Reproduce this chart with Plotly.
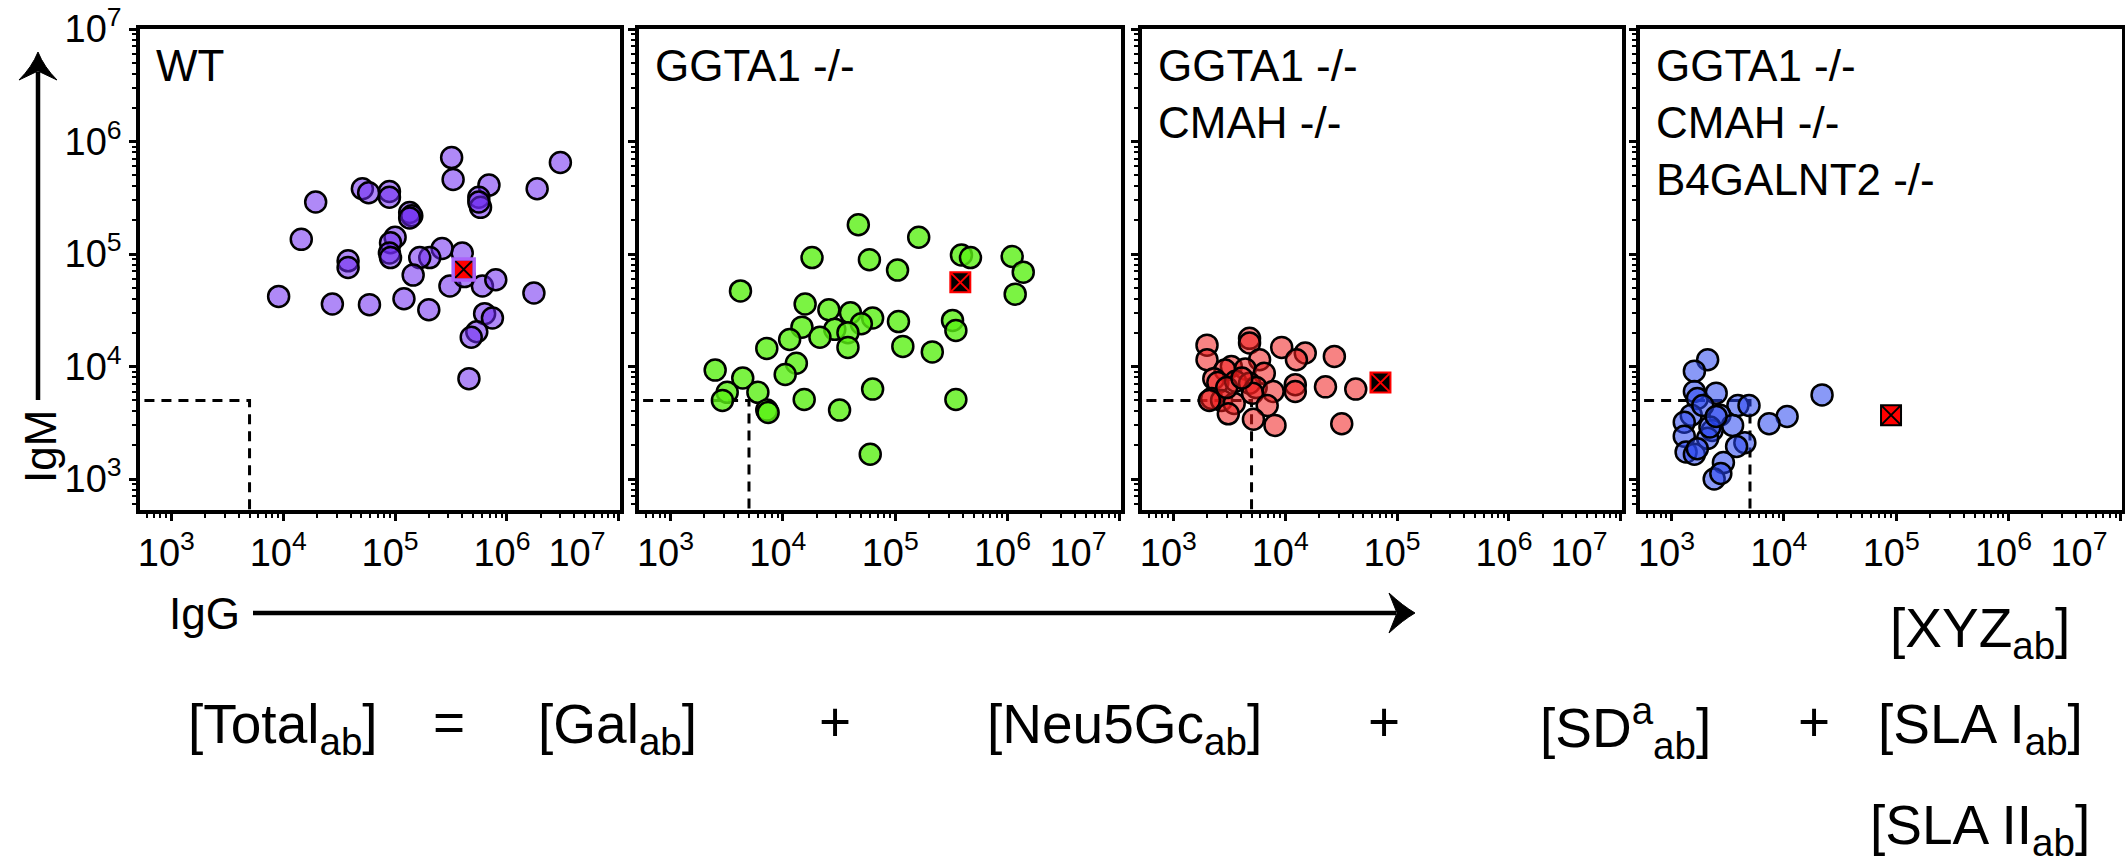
import plotly.graph_objects as go

W, H = 2125, 866

# IgG / IgM binding (MFI) of each serum on cells of each genotype
wt_igg = [320000, 330000, 3000000, 1860000, 690000, 560000, 580000, 560000, 51000, 58000,
          89000, 89000, 19500, 135000, 141000, 135000, 14500, 100000, 91000, 89000,
          91000, 38000, 38000, 263000, 204000, 166000, 398000, 145000, 309000, 417000,
          603000, 794000, 1740000, 9100, 27500, 59000, 120000, 200000, 631000, 741000,
          537000, 479000, 457000]
wt_igm = [720000, 460000, 650000, 380000, 410000, 320000, 260000, 290000, 380000, 350000,
          360000, 320000, 290000, 234000, 219000, 209000, 135000, 141000, 126000, 102000,
          93000, 87000, 76000, 112000, 93000, 93000, 102000, 65000, 52000, 63000,
          52000, 59000, 45000, 42000, 36000, 35500, 40000, 32000, 29500, 27000,
          20400, 18200, 7800]

ggta1_igg = [47000, 162000, 18200, 59000, 105000, 389000, 468000, 1100000, 1380000, 1170000,
             4200, 15800, 25700, 40000, 63000, 50000, 29000, 38000, 14800, 11500,
             21400, 38000, 107000, 117000, 214000, 324000, 347000, 7200, 13200, 10500,
             2500, 4400, 3200, 2900, 6000, 7200, 7400, 15500, 32000, 63000,
             347000, 60000]
ggta1_igm = [182000, 141000, 93000, 89000, 72000, 98000, 93000, 95000, 69000, 44000,
             47000, 36000, 32000, 30000, 27000, 24000, 21400, 20000, 22400, 17400,
             18200, 14800, 25100, 15100, 13500, 25700, 20900, 14500, 10700, 8500,
             9300, 7900, 5900, 5000, 5900, 4100, 3900, 5100, 4100, 6300,
             5100, 1660]

dko_igg = [2000, 4800, 4800, 9300, 15100, 12600, 27500, 2000, 5900, 3300,
           2900, 4400, 6500, 2300, 2500, 3600, 4800, 5500, 7800, 12300,
           12300, 22900, 42700, 2200, 2700, 2100, 3500, 5100, 6900, 3100,
           5200, 8100, 32000, 3000, 4100]
dko_igm = [15500, 17800, 16200, 14800, 13200, 11500, 12300, 11500, 11500, 10000,
           9300, 9500, 8700, 7800, 7200, 7400, 7100, 6500, 6000, 6900,
           6000, 6600, 6300, 5200, 5000, 5000, 4700, 5800, 4500, 3800,
           3400, 3000, 3100, 6500, 7900]

tko_igg = [2100, 1600, 1600, 1700, 2500, 3900, 4900, 21900, 10700, 7400,
           1500, 1300, 2700, 3500, 2300, 1300, 2100, 4500, 3800, 1350,
           1600, 1700, 2900, 2400, 2750, 2200, 1900, 2500]
tko_igm = [11500, 9100, 6000, 5200, 5800, 4500, 4500, 5600, 3600, 3100,
           3700, 3200, 3700, 3000, 2700, 2400, 2300, 2100, 1950, 1740,
           1660, 1860, 1400, 1000, 1120, 2900, 4500, 3600]

# Reference serum measured on each genotype
ref_igg = [410000, 380000, 71000, 90000]
ref_igm = [73000, 56000, 7200, 3700]

# Background cut-off on both axes
cutoff = 5000

panel_titles = ["WT", "GGTA1 -/-", "GGTA1 -/-<br>CMAH -/-",
                "GGTA1 -/-<br>CMAH -/-<br>B4GALNT2 -/-"]
tick_vals = [1e3, 1e4, 1e5, 1e6, 1e7]
tick_text = ["10<sup>3</sup>", "10<sup>4</sup>", "10<sup>5</sup>", "10<sup>6</sup>",
             "10<sup>7</sup>"]
# the last x label sits a little in from the panel edge
x_tick_text = tick_text[:-1] + ["10<sup>7</sup>" + "&nbsp;" * 7]

series = [(wt_igg, wt_igm), (ggta1_igg, ggta1_igm), (dko_igg, dko_igm), (tko_igg, tko_igm)]
fills = ["rgba(110,40,240,0.55)", "rgba(90,240,20,0.8)",
         "rgba(240,30,30,0.55)", "rgba(40,70,240,0.55)"]
ref_fill = ["red", "black", "black", "red"]
ref_edge = ["black", "red", "red", "black"]

# inner plot-area edges of the four panels, in page pixels
lefts = [140, 639, 1142, 1640]
rights = [620, 1121, 1622, 2122]
top_px, bottom_px = 29, 510

FONT = "Liberation Sans, Arial, Helvetica, sans-serif"

fig = go.Figure()
layout_axes = {}
for i, ((gx, gm), fill) in enumerate(zip(series, fills)):
    n = i + 1
    xa, ya = ("x", "y") if n == 1 else (f"x{n}", f"y{n}")

    # dashed cut-off box
    fig.add_trace(go.Scatter(
        x=[100, cutoff, cutoff], y=[cutoff, cutoff, 100], mode="lines",
        line=dict(color="black", width=3, dash="10px,7px"),
        xaxis=xa, yaxis=ya, showlegend=False, hoverinfo="skip"))

    fig.add_trace(go.Scatter(
        x=gx, y=gm, mode="markers",
        marker=dict(symbol="circle", size=21, color=fill,
                    line=dict(color="black", width=2.5)),
        xaxis=xa, yaxis=ya, showlegend=False))

    fig.add_trace(go.Scatter(
        x=[ref_igg[i]], y=[ref_igm[i]], mode="markers",
        marker=dict(symbol="square-x", size=20, color=ref_fill[i],
                    line=dict(color=ref_edge[i], width=2)),
        xaxis=xa, yaxis=ya, showlegend=False))
    if i == 0:
        fig.add_trace(go.Scatter(
            x=[ref_igg[i]], y=[ref_igm[i]], mode="markers",
            marker=dict(symbol="square-open", size=21,
                        line=dict(color="red", width=3.5)),
            xaxis=xa, yaxis=ya, showlegend=False))

    common = dict(type="log", showline=True, linecolor="black", linewidth=3.5,
                  mirror=True, showgrid=False, zeroline=False, automargin=False,
                  ticks="outside", ticklen=7, tickwidth=2.5, tickcolor="black",
                  tickvals=tick_vals, ticklabeloverflow="allow",
                  tickfont=dict(family=FONT, size=38, color="black"),
                  minor=dict(ticks="outside", ticklen=4, tickwidth=2,
                             tickcolor="black", dtick="D1", showgrid=False))
    xkey = "xaxis" if n == 1 else f"xaxis{n}"
    ykey = "yaxis" if n == 1 else f"yaxis{n}"
    layout_axes[xkey] = dict(common, domain=[lefts[i] / W, rights[i] / W],
                             range=[2.72, 7.01], anchor=ya,
                             ticktext=x_tick_text, ticklabelshift=-5)
    layout_axes[ykey] = dict(common, domain=[1 - bottom_px / H, 1 - top_px / H],
                             range=[2.725, 7.0], anchor=xa, ticktext=tick_text,
                             showticklabels=(n == 1))

fig.update_layout(**layout_axes)


def px(x):
    return x / W


def py(y):
    return 1 - y / H


annotations = []
for i, title in enumerate(panel_titles):
    annotations.append(dict(
        text=title, xref="paper", yref="paper", x=px(lefts[i] + 14), y=py(top_px + 10),
        xanchor="left", yanchor="top", align="left", showarrow=False,
        font=dict(family=FONT, size=44, color="black")))

# axis names
annotations.append(dict(text="IgM", xref="paper", yref="paper", x=px(40), y=py(447),
                        xanchor="center", yanchor="middle",
                        textangle=-90, showarrow=False,
                        font=dict(family=FONT, size=44, color="black")))
annotations.append(dict(text="IgG", xref="paper", yref="paper", x=px(204), y=py(613),
                        xanchor="center", yanchor="middle",
                        showarrow=False, font=dict(family=FONT, size=44, color="black")))

# antibody equation
eq_font = dict(family=FONT, size=55, color="black")
eq_terms = [
    ("[Total<sub>ab</sub>]", 283, 728),
    ("=", 449, 722),
    ("[Gal<sub>ab</sub>]", 617, 728),
    ("+", 835, 722),
    ("[Neu5Gc<sub>ab</sub>]", 1124, 728),
    ("+", 1384, 722),
    ("[SD<sup>a</sup><sub>ab</sub>]", 1625, 728),
    ("+", 1814, 722),
    ("[XYZ<sub>ab</sub>]", 1980, 632),
    ("[SLA I<sub>ab</sub>]", 1980, 728),
    ("[SLA II<sub>ab</sub>]", 1980, 829),
]
for text, cx, cy in eq_terms:
    annotations.append(dict(text=text, xref="paper", yref="paper", x=px(cx), y=py(cy),
                            xanchor="center", yanchor="middle", showarrow=False,
                            font=eq_font))

fig.update_layout(annotations=annotations)


def arrow_head(tip, back_a, notch, back_b, ctrl_a, ctrl_b):
    pts = [tip, ctrl_a, back_a, notch, back_b, ctrl_b]
    f = [(px(x), py(y)) for x, y in pts]
    return (f"M{f[0][0]:.5f},{f[0][1]:.5f} Q{f[1][0]:.5f},{f[1][1]:.5f} {f[2][0]:.5f},{f[2][1]:.5f} "
            f"L{f[3][0]:.5f},{f[3][1]:.5f} L{f[4][0]:.5f},{f[4][1]:.5f} "
            f"Q{f[5][0]:.5f},{f[5][1]:.5f} {f[0][0]:.5f},{f[0][1]:.5f} Z")


shapes = [
    # IgM arrow (upwards)
    dict(type="line", xref="paper", yref="paper", x0=px(38), y0=py(400), x1=px(38), y1=py(72),
         line=dict(color="black", width=4.5)),
    dict(type="path", xref="paper", yref="paper",
         path=arrow_head((38, 52), (19, 80), (38, 71), (57, 80), (32, 67), (44, 67)),
         fillcolor="black", line=dict(color="black", width=1)),
    # IgG arrow (rightwards)
    dict(type="line", xref="paper", yref="paper", x0=px(253), y0=py(613), x1=px(1396), y1=py(613),
         line=dict(color="black", width=4.5)),
    dict(type="path", xref="paper", yref="paper",
         path=arrow_head((1415, 613), (1389, 593), (1397, 613), (1389, 633), (1403, 606), (1403, 620)),
         fillcolor="black", line=dict(color="black", width=1)),
]
fig.update_layout(shapes=shapes)

fig.update_layout(width=W, height=H, margin=dict(l=0, r=0, t=0, b=0, pad=0),
                  paper_bgcolor="white", plot_bgcolor="white",
                  font=dict(family=FONT, color="black"))

fig.write_html("out.html")
